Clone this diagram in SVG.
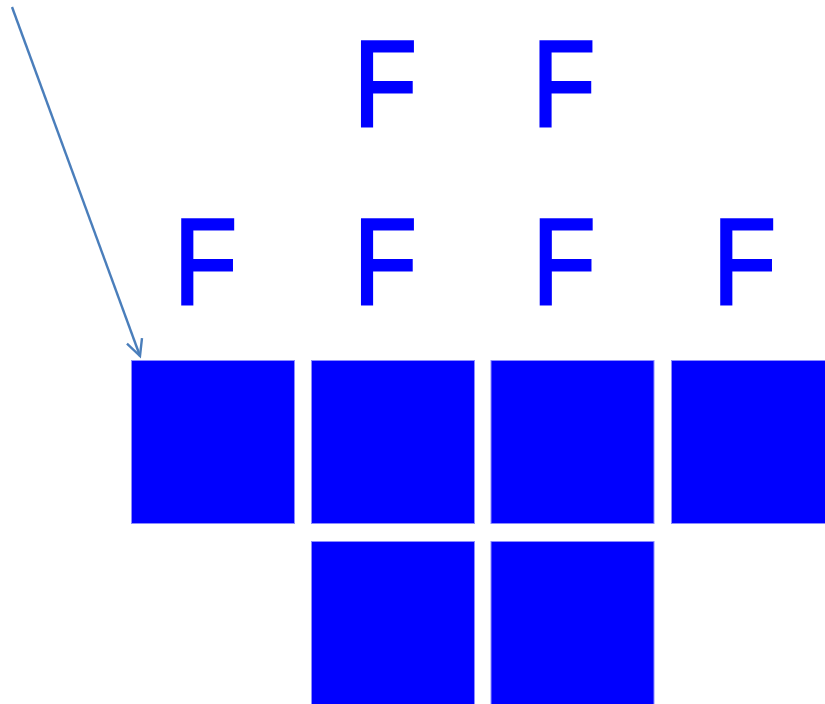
<svg xmlns="http://www.w3.org/2000/svg" width="825" height="704" viewBox="0 0 825 704">
<style>
.sq{fill:#0000ff;stroke:#8c8cff;stroke-width:1}
.f{font-family:"Liberation Sans",Arial,sans-serif;font-size:123px;fill:#0000ff;stroke:#0000ff;stroke-width:3;stroke-linejoin:miter}
.conn{fill:none;stroke:#4a7ebb;stroke-width:2.4}
</style>
<defs>
<marker id="ah" markerWidth="12" markerHeight="12" refX="10" refY="6" orient="auto" markerUnits="userSpaceOnUse" viewBox="0 0 12 12" overflow="visible">
<path d="M-6,-2 L10,6 L-6,14" fill="none" stroke="#4a7ebb" stroke-width="2.4"/>
</marker>
</defs>
<rect width="825" height="704" fill="#ffffff"/>
<g id="connectors">
<line class="conn" x1="12" y1="7" x2="140" y2="356" marker-end="url(#ah)"/>
</g>
<g id="f-top-1"><text class="f" transform="translate(353.7,125.5) scale(0.84,1)">F</text></g>
<g id="f-top-2"><text class="f" transform="translate(532.3,125.5) scale(0.84,1)">F</text></g>
<g id="f-mid-1"><text class="f" transform="translate(174,304.3) scale(0.84,1)">F</text></g>
<g id="f-mid-2"><text class="f" transform="translate(353.7,304.3) scale(0.84,1)">F</text></g>
<g id="f-mid-3"><text class="f" transform="translate(532.5,304.3) scale(0.84,1)">F</text></g>
<g id="f-mid-4"><text class="f" transform="translate(713,304.3) scale(0.84,1)">F</text></g>
<g id="sq-1"><rect class="sq" x="131.5" y="360.5" width="163" height="163"/></g>
<g id="sq-2"><rect class="sq" x="311.5" y="360.5" width="163" height="163"/></g>
<g id="sq-3"><rect class="sq" x="491" y="360.5" width="163" height="163"/></g>
<g id="sq-4"><rect class="sq" x="671.5" y="360.5" width="163" height="163"/></g>
<g id="sq-5"><rect class="sq" x="311.5" y="541.5" width="163" height="163"/></g>
<g id="sq-6"><rect class="sq" x="491" y="541.5" width="163" height="163"/></g>
</svg>
